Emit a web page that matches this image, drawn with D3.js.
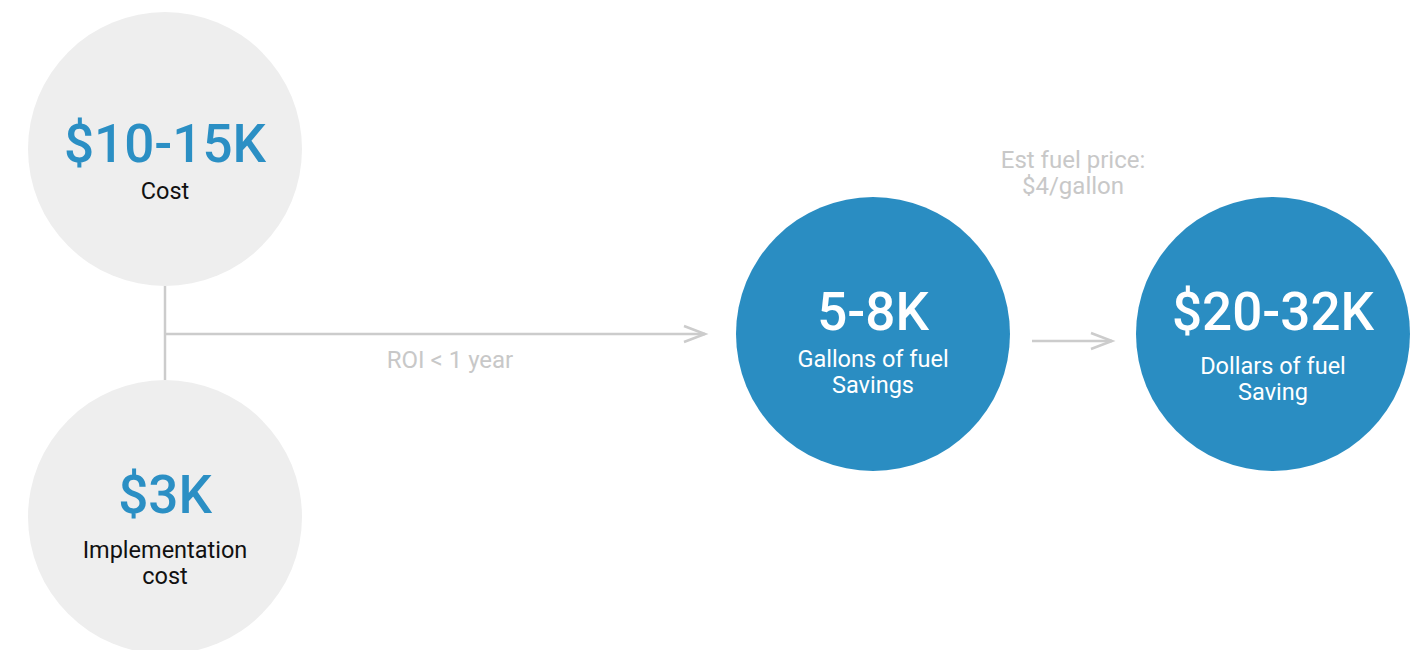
<!DOCTYPE html>
<html>
<head>
<meta charset="utf-8">
<script src="https://cdnjs.cloudflare.com/ajax/libs/d3/7.8.5/d3.min.js"></script>
<style>
    body { margin: 0; background: #fff; }
    svg { display: block; font-family: Roboto, "Noto Sans", sans-serif; }
</style>
</head>
<body>
<svg id="chart"></svg>
<script>
// figures shown in each bubble
const nodeValues = ["$10-15K", "$3K", "5-8K", "$20-32K"];
const nodeLabels = [["Cost"], ["Implementation", "cost"], ["Gallons of fuel", "Savings"], ["Dollars of fuel", "Saving"]];
const nodeKinds = ["input", "input", "output", "output"];
const arrowNotes = [["ROI < 1 year"], ["Est fuel price:", "$4/gallon"]];

const width = 1420;
const height = 650;
const radius = 137;

// layout: where each bubble sits (px)
const xPos = d3.scaleOrdinal().domain([0, 1, 2, 3]).range([165, 165, 873, 1273]);
const yPos = d3.scaleOrdinal().domain([0, 1, 2, 3]).range([149, 517, 334, 334]);
// first label baseline, relative to bubble centre
const labelTop = d3.scaleOrdinal().domain([0, 1, 2, 3]).range([50, 41, 33, 40]);
const fill = d3.scaleOrdinal().domain(["input", "output"]).range(["#eeeeee", "#2a8dc2"]);
const valueColor = d3.scaleOrdinal().domain(["input", "output"]).range(["#2b8fc4", "#ffffff"]);
const labelColor = d3.scaleOrdinal().domain(["input", "output"]).range(["#111111", "#ffffff"]);

const nodes = nodeValues.map((v, i) => ({ value: v, label: nodeLabels[i], kind: nodeKinds[i], i: i }));

const svg = d3.select("#chart").attr("width", width).attr("height", height);

const lineColor = "#cccccc";
const links = svg.append("g").attr("stroke", lineColor).attr("stroke-width", 2.5).attr("fill", "none");

// bracket joining the two costs
links.append("line")
    .attr("x1", xPos(0)).attr("x2", xPos(1))
    .attr("y1", yPos(0) + radius).attr("y2", yPos(1) - radius);

const midY = yPos(2);
function arrow(x1, x2, y) {
    links.append("line").attr("x1", x1).attr("x2", x2).attr("y1", y).attr("y2", y);
    links.append("path").attr("d", `M${x2 - 21},${y - 8}L${x2},${y}L${x2 - 21},${y + 8}`);
}
arrow(xPos(0), xPos(2) - radius - 31, midY);
arrow(xPos(2) + radius + 22, xPos(3) - radius - 24, midY + 7);

// notes next to arrows
const notes = svg.append("g").attr("fill", "#c8c8c8").attr("font-size", 24).attr("text-anchor", "middle");
notes.append("text").attr("x", 450).attr("y", 368).text(arrowNotes[0][0]);
arrowNotes[1].forEach((t, k) => {
    notes.append("text").attr("x", 1073).attr("y", 168 + k * 26).text(t);
});

// bubbles
const bubble = svg.selectAll(".bubble")
    .data(nodes)
    .enter().append("g")
    .attr("class", "bubble")
    .attr("transform", d => `translate(${xPos(d.i)},${yPos(d.i)})`);

bubble.append("circle")
    .attr("r", radius)
    .attr("fill", d => fill(d.kind));

bubble.append("text")
    .attr("text-anchor", "middle")
    .attr("y", d => d.label.length > 1 ? -4 : 13)
    .attr("font-size", 53)
    .attr("font-weight", 500)
    .attr("fill", d => valueColor(d.kind))
    .text(d => d.value);

bubble.each(function(d) {
    const g = d3.select(this);
    d.label.forEach((t, k) => {
        g.append("text")
            .attr("text-anchor", "middle")
            .attr("y", labelTop(d.i) + k * 26)
            .attr("font-size", 23.5)
            .attr("fill", labelColor(d.kind))
            .text(t);
    });
});
</script>
</body>
</html>
